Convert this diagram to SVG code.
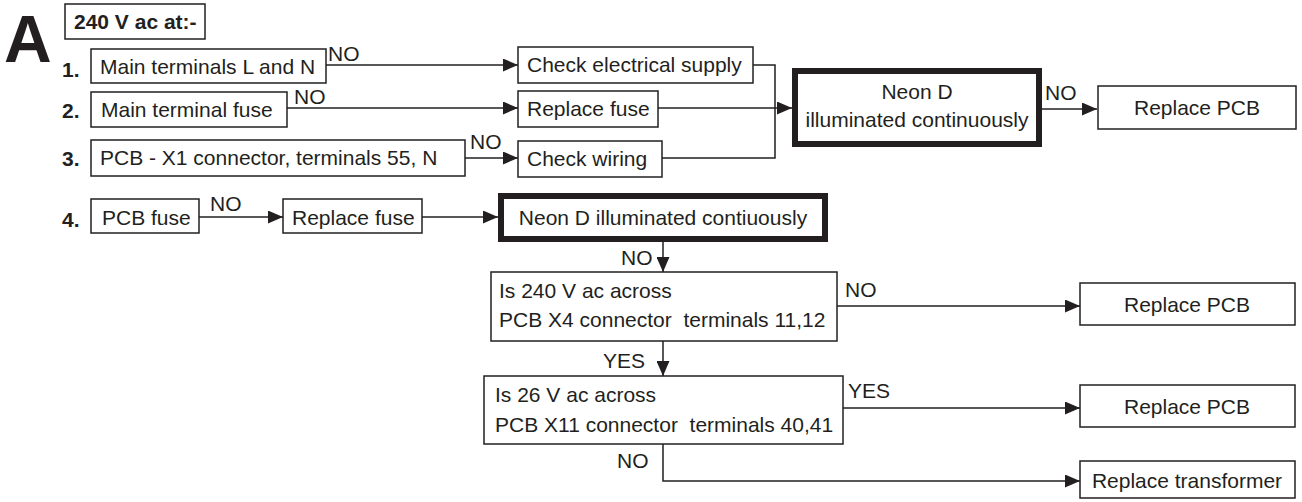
<svg xmlns="http://www.w3.org/2000/svg" width="1302" height="502" viewBox="0 0 1302 502">
<style>
text{font-family:"Liberation Sans",Arial,sans-serif;font-size:21px;fill:#231f20;white-space:pre}
.b{font-weight:bold}
.box{fill:#fff;stroke:#231f20;stroke-width:1.5}
.thick{fill:#fff;stroke:#231f20;stroke-width:6}
.c{fill:none;stroke:#231f20;stroke-width:1.5}
.m{text-anchor:middle}
</style>
<defs>
<marker id="ah" markerUnits="userSpaceOnUse" markerWidth="15" markerHeight="13" refX="15" refY="6.5" orient="auto">
<path d="M0,0 L15,6.5 L0,13 z" fill="#231f20"/>
</marker>
</defs>
<rect width="1302" height="502" fill="#fff"/>
<text x="4" y="62" class="b" style="font-size:66px">A</text>
<g id="header"><rect class="box" x="65" y="4" width="140" height="35"/><text x="74" y="29" class="b">240 V ac at:-</text></g>
<text x="62" y="77" class="b">1.</text>
<text x="62" y="118" class="b">2.</text>
<text x="62" y="166" class="b">3.</text>
<text x="62" y="227" class="b">4.</text>
<g id="connectors">
<path class="c" d="M326,65 H518" marker-end="url(#ah)"/>
<path class="c" d="M287,108 H518" marker-end="url(#ah)"/>
<path class="c" d="M465,158 H518" marker-end="url(#ah)"/>
<path class="c" d="M753,65 H775 V158 H662"/>
<path class="c" d="M658,108 H792" marker-end="url(#ah)"/>
<path class="c" d="M1042,109 H1097" marker-end="url(#ah)"/>
<path class="c" d="M199,217 H283" marker-end="url(#ah)"/>
<path class="c" d="M422,217 H498" marker-end="url(#ah)"/>
<path class="c" d="M663,242 V272" marker-end="url(#ah)"/>
<path class="c" d="M663,341 V376" marker-end="url(#ah)"/>
<path class="c" d="M837,306 H1080" marker-end="url(#ah)"/>
<path class="c" d="M843,408 H1080" marker-end="url(#ah)"/>
<path class="c" d="M663,444 V481 H1080" marker-end="url(#ah)"/>
<text x="328" y="61">NO</text>
<text x="294" y="104">NO</text>
<text x="470" y="149">NO</text>
<text x="1045" y="100">NO</text>
<text x="210" y="211">NO</text>
<text x="621" y="265">NO</text>
<text x="845" y="297">NO</text>
<text x="603" y="368">YES</text>
<text x="848" y="398">YES</text>
<text x="617" y="468">NO</text>
</g>
<g id="n1"><rect class="box" x="91" y="49" width="235" height="34"/><text x="100" y="74">Main terminals L and N</text></g>
<g id="n2"><rect class="box" x="91" y="92" width="196" height="35"/><text x="101" y="117">Main terminal fuse</text></g>
<g id="n3"><rect class="box" x="91" y="140" width="374" height="36"/><text x="100" y="165">PCB - X1 connector, terminals 55, N</text></g>
<g id="checkSupply"><rect class="box" x="518" y="47" width="235" height="36"/><text x="527" y="72">Check electrical supply</text></g>
<g id="replaceFuse1"><rect class="box" x="518" y="91" width="140" height="36"/><text x="527" y="116">Replace fuse</text></g>
<g id="checkWiring"><rect class="box" x="518" y="141" width="144" height="36"/><text x="527" y="166">Check wiring</text></g>
<g id="neon1"><rect class="thick" x="795" y="71" width="244" height="73"/><text x="917" y="99" class="m">Neon D</text><text x="917" y="127" class="m">illuminated continuously</text></g>
<g id="replacePCB1"><rect class="box" x="1098" y="86" width="198" height="43"/><text x="1197" y="115" class="m">Replace PCB</text></g>
<g id="n4"><rect class="box" x="91" y="199" width="108" height="34"/><text x="102" y="225">PCB fuse</text></g>
<g id="replaceFuse2"><rect class="box" x="283" y="199" width="139" height="34"/><text x="292" y="225">Replace fuse</text></g>
<g id="neon2"><rect class="thick" x="501" y="196" width="324" height="43"/><text x="663" y="225" class="m">Neon D illuminated contiuously</text></g>
<g id="q240"><rect class="box" x="491" y="272" width="346" height="69"/><text x="499" y="298">Is 240 V ac across</text><text x="499" y="327">PCB X4 connector  terminals 11,12</text></g>
<g id="q26"><rect class="box" x="484" y="376" width="359" height="68"/><text x="495" y="402">Is 26 V ac across</text><text x="495" y="432">PCB X11 connector  terminals 40,41</text></g>
<g id="replacePCB2"><rect class="box" x="1080" y="283" width="215" height="42"/><text x="1187" y="312" class="m">Replace PCB</text></g>
<g id="replacePCB3"><rect class="box" x="1080" y="385" width="215" height="42"/><text x="1187" y="414" class="m">Replace PCB</text></g>
<g id="replaceTransformer"><rect class="box" x="1080" y="461" width="215" height="37"/><text x="1187" y="488" class="m">Replace transformer</text></g>
</svg>
